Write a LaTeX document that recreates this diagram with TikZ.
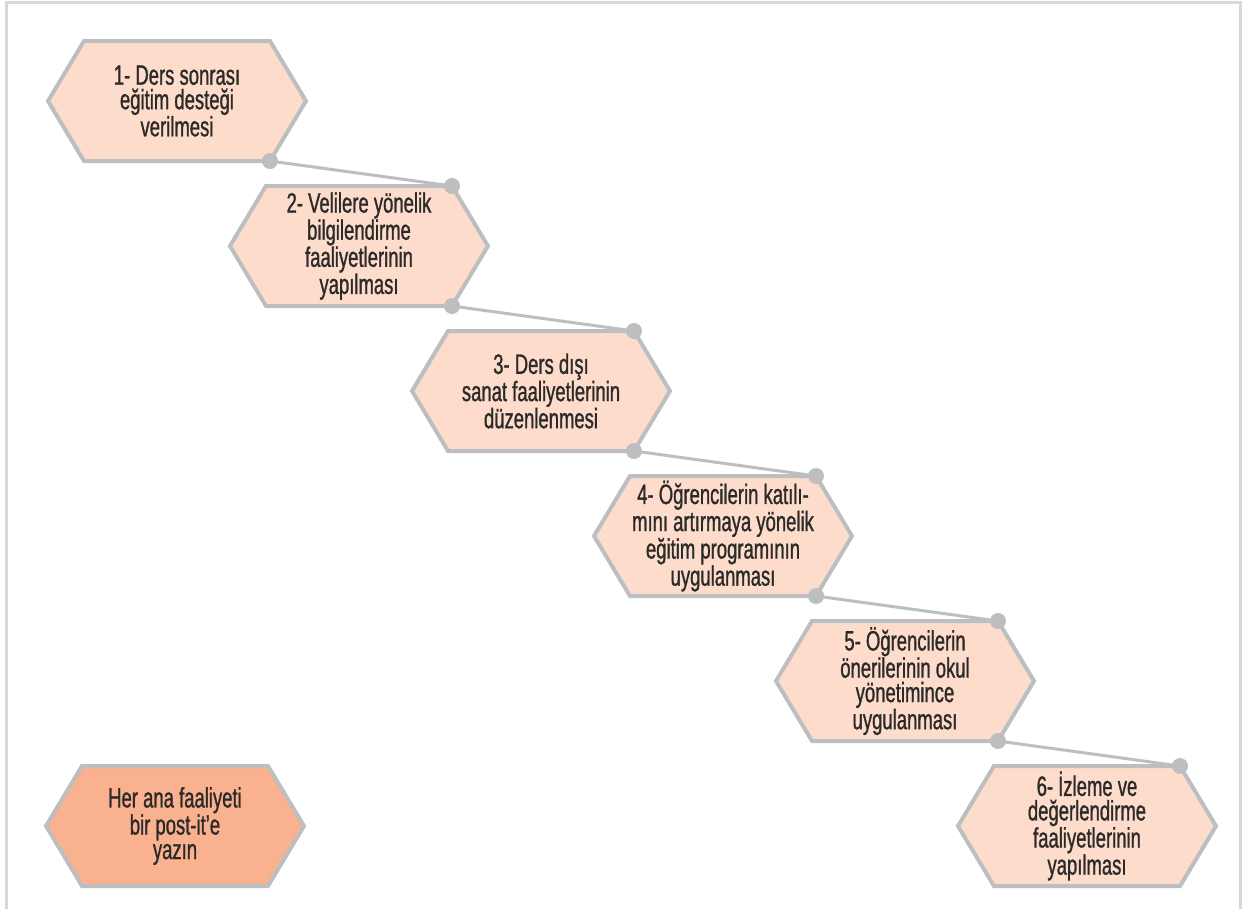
\documentclass[tikz,border=0pt]{standalone}
\usepackage{fontspec}
\setmainfont{Liberation Sans}[FakeStretch=0.66,FakeBold=1]
\usepackage{xcolor}
\usepackage{tikz}
\usetikzlibrary{positioning,backgrounds}
\definecolor{peach}{HTML}{FDDCCB}
\definecolor{salmon}{HTML}{F9B18F}
\definecolor{edge}{HTML}{BCBEC0}
\definecolor{ink}{HTML}{2B2A29}
\definecolor{frame}{HTML}{D8D8D8}
\tikzset{
  hexbox/.style={rectangle, draw=none, inner sep=0pt, outer sep=0pt,
                 minimum width=186pt, minimum height=120pt, align=center,
                 text=ink, font=\fontsize{28}{24.5}\selectfont},
  hexline/.style={draw=edge, line width=4pt},
  link/.style={draw=edge, line width=3pt},
  dot/.style={fill=edge},
  border/.style={draw=frame, line width=3pt}
}

\begin{document}
\begin{tikzpicture}[x=1pt, y=-1pt]
  \useasboundingbox (0,0) rectangle (1250,908);
  \draw[border] (6,912) -- (6,2) -- (1240,2) -- (1240,912);

  \node[hexbox] (h1) at (177,101) {1- Ders sonrası\\eğitim desteği\\verilmesi};
  \node[hexbox, below right=25pt and -4pt of h1] (h2) {2- Velilere yönelik\\bilgilendirme\\faaliyetlerinin\\yapılması};
  \node[hexbox, below right=25pt and -4pt of h2] (h3) {3- Ders dışı\\sanat faaliyetlerinin\\düzenlenmesi};
  \node[hexbox, below right=25pt and -4pt of h3] (h4) {4- Öğrencilerin katılı-\\mını artırmaya yönelik\\eğitim programının\\uygulanması};
  \node[hexbox, below right=25pt and -4pt of h4] (h5) {5- Öğrencilerin\\önerilerinin okul\\yönetimince\\uygulanması};
  \node[hexbox, below right=25pt and -4pt of h5] (h6) {6- İzleme ve\\değerlendirme\\faaliyetlerinin\\yapılması};
  \node[hexbox] (note) at (175,826) {Her ana faaliyeti\\bir post-it’e\\yazın};

  % hexagon outlines behind the texts
  \begin{scope}[on background layer]
    \foreach \n/\c in {h1/peach,h2/peach,h3/peach,h4/peach,h5/peach,h6/peach,note/salmon}
      \draw[hexline, fill=\c] (\n.north west) -- (\n.north east) -- ([xshift=36pt]\n.east)
        -- (\n.south east) -- (\n.south west) -- ([xshift=-36pt]\n.west) -- cycle;
  \end{scope}

  \foreach \a/\b in {h1/h2,h2/h3,h3/h4,h4/h5,h5/h6} {
    \draw[link] (\a.south east) -- (\b.north east);
    \fill[dot] (\a.south east) circle (8pt);
    \fill[dot] (\b.north east) circle (8pt);
  }
\end{tikzpicture}
\end{document}
